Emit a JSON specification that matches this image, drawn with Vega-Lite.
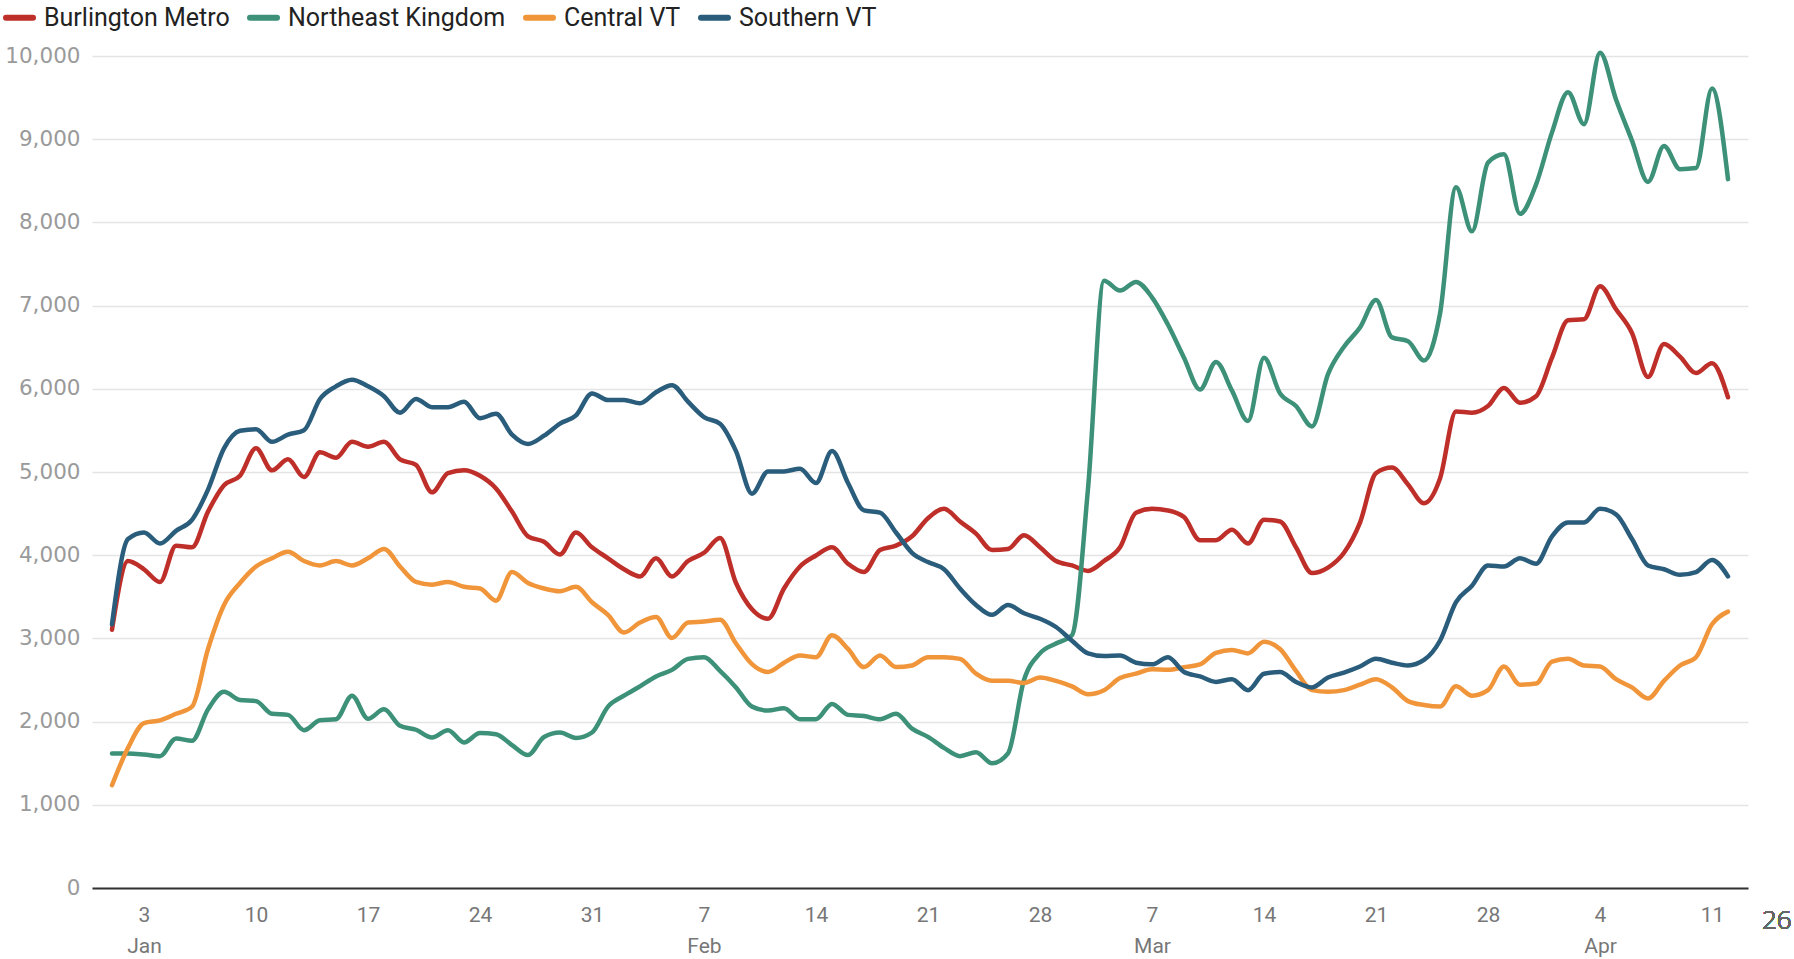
{
  "$schema": "https://vega.github.io/schema/vega-lite/v6.json",
  "width": 1656,
  "height": 832,
  "autosize": {"type": "none"},
  "padding": {"left": 92, "top": 56, "right": 46, "bottom": 71},
  "background": "white",
  "config": {"view": {"stroke": null}, "font": "Roboto"},
  "data": {
    "format": {"parse": {"d": "date:'%Y-%m-%d'"}},
    "values": [
      {"d":"2021-01-01","s":"Burlington Metro","v":3104},{"d":"2021-01-02","s":"Burlington Metro","v":3930},{"d":"2021-01-03","s":"Burlington Metro","v":3831},{"d":"2021-01-04","s":"Burlington Metro","v":3679},{"d":"2021-01-05","s":"Burlington Metro","v":4115},{"d":"2021-01-06","s":"Burlington Metro","v":4095},{"d":"2021-01-07","s":"Burlington Metro","v":4524},{"d":"2021-01-08","s":"Burlington Metro","v":4841},{"d":"2021-01-09","s":"Burlington Metro","v":4954},{"d":"2021-01-10","s":"Burlington Metro","v":5284},
      {"d":"2021-01-11","s":"Burlington Metro","v":5020},{"d":"2021-01-12","s":"Burlington Metro","v":5152},{"d":"2021-01-13","s":"Burlington Metro","v":4941},{"d":"2021-01-14","s":"Burlington Metro","v":5238},{"d":"2021-01-15","s":"Burlington Metro","v":5172},{"d":"2021-01-16","s":"Burlington Metro","v":5363},{"d":"2021-01-17","s":"Burlington Metro","v":5304},{"d":"2021-01-18","s":"Burlington Metro","v":5363},{"d":"2021-01-19","s":"Burlington Metro","v":5152},{"d":"2021-01-20","s":"Burlington Metro","v":5086},
      {"d":"2021-01-21","s":"Burlington Metro","v":4756},{"d":"2021-01-22","s":"Burlington Metro","v":4987},{"d":"2021-01-23","s":"Burlington Metro","v":5020},{"d":"2021-01-24","s":"Burlington Metro","v":4954},{"d":"2021-01-25","s":"Burlington Metro","v":4802},{"d":"2021-01-26","s":"Burlington Metro","v":4524},{"d":"2021-01-27","s":"Burlington Metro","v":4227},{"d":"2021-01-28","s":"Burlington Metro","v":4161},{"d":"2021-01-29","s":"Burlington Metro","v":4009},{"d":"2021-01-30","s":"Burlington Metro","v":4273},
      {"d":"2021-01-31","s":"Burlington Metro","v":4095},{"d":"2021-02-01","s":"Burlington Metro","v":3963},{"d":"2021-02-02","s":"Burlington Metro","v":3831},{"d":"2021-02-03","s":"Burlington Metro","v":3745},{"d":"2021-02-04","s":"Burlington Metro","v":3963},{"d":"2021-02-05","s":"Burlington Metro","v":3745},{"d":"2021-02-06","s":"Burlington Metro","v":3930},{"d":"2021-02-07","s":"Burlington Metro","v":4029},{"d":"2021-02-08","s":"Burlington Metro","v":4207},{"d":"2021-02-09","s":"Burlington Metro","v":3666},
      {"d":"2021-02-10","s":"Burlington Metro","v":3350},{"d":"2021-02-11","s":"Burlington Metro","v":3236},{"d":"2021-02-12","s":"Burlington Metro","v":3600},{"d":"2021-02-13","s":"Burlington Metro","v":3864},{"d":"2021-02-14","s":"Burlington Metro","v":3996},{"d":"2021-02-15","s":"Burlington Metro","v":4095},{"d":"2021-02-16","s":"Burlington Metro","v":3897},{"d":"2021-02-17","s":"Burlington Metro","v":3798},{"d":"2021-02-18","s":"Burlington Metro","v":4062},{"d":"2021-02-19","s":"Burlington Metro","v":4115},
      {"d":"2021-02-20","s":"Burlington Metro","v":4227},{"d":"2021-02-21","s":"Burlington Metro","v":4445},{"d":"2021-02-22","s":"Burlington Metro","v":4557},{"d":"2021-02-23","s":"Burlington Metro","v":4405},{"d":"2021-02-24","s":"Burlington Metro","v":4260},{"d":"2021-02-25","s":"Burlington Metro","v":4062},{"d":"2021-02-26","s":"Burlington Metro","v":4075},{"d":"2021-02-27","s":"Burlington Metro","v":4240},{"d":"2021-02-28","s":"Burlington Metro","v":4095},{"d":"2021-03-01","s":"Burlington Metro","v":3930},
      {"d":"2021-03-02","s":"Burlington Metro","v":3877},{"d":"2021-03-03","s":"Burlington Metro","v":3811},{"d":"2021-03-04","s":"Burlington Metro","v":3930},{"d":"2021-03-05","s":"Burlington Metro","v":4095},{"d":"2021-03-06","s":"Burlington Metro","v":4511},{"d":"2021-03-07","s":"Burlington Metro","v":4557},{"d":"2021-03-08","s":"Burlington Metro","v":4538},{"d":"2021-03-09","s":"Burlington Metro","v":4458},{"d":"2021-03-10","s":"Burlington Metro","v":4181},{"d":"2021-03-11","s":"Burlington Metro","v":4181},
      {"d":"2021-03-12","s":"Burlington Metro","v":4306},{"d":"2021-03-13","s":"Burlington Metro","v":4141},{"d":"2021-03-14","s":"Burlington Metro","v":4425},{"d":"2021-03-15","s":"Burlington Metro","v":4405},{"d":"2021-03-16","s":"Burlington Metro","v":4095},{"d":"2021-03-17","s":"Burlington Metro","v":3785},{"d":"2021-03-18","s":"Burlington Metro","v":3851},{"d":"2021-03-19","s":"Burlington Metro","v":4029},{"d":"2021-03-20","s":"Burlington Metro","v":4392},{"d":"2021-03-21","s":"Burlington Metro","v":4987},
      {"d":"2021-03-22","s":"Burlington Metro","v":5053},{"d":"2021-03-23","s":"Burlington Metro","v":4850},{"d":"2021-03-24","s":"Burlington Metro","v":4624},{"d":"2021-03-25","s":"Burlington Metro","v":4921},{"d":"2021-03-26","s":"Burlington Metro","v":5727},{"d":"2021-03-27","s":"Burlington Metro","v":5713},{"d":"2021-03-28","s":"Burlington Metro","v":5793},{"d":"2021-03-29","s":"Burlington Metro","v":6011},{"d":"2021-03-30","s":"Burlington Metro","v":5832},{"d":"2021-03-31","s":"Burlington Metro","v":5911},
      {"d":"2021-04-01","s":"Burlington Metro","v":6374},{"d":"2021-04-02","s":"Burlington Metro","v":6823},{"d":"2021-04-03","s":"Burlington Metro","v":6836},{"d":"2021-04-04","s":"Burlington Metro","v":7232},{"d":"2021-04-05","s":"Burlington Metro","v":6955},{"d":"2021-04-06","s":"Burlington Metro","v":6671},{"d":"2021-04-07","s":"Burlington Metro","v":6143},{"d":"2021-04-08","s":"Burlington Metro","v":6539},{"d":"2021-04-09","s":"Burlington Metro","v":6387},{"d":"2021-04-10","s":"Burlington Metro","v":6189},
      {"d":"2021-04-11","s":"Burlington Metro","v":6308},{"d":"2021-04-12","s":"Burlington Metro","v":5898},

      {"d":"2021-01-01","s":"Northeast Kingdom","v":1618},{"d":"2021-01-02","s":"Northeast Kingdom","v":1618},{"d":"2021-01-03","s":"Northeast Kingdom","v":1605},{"d":"2021-01-04","s":"Northeast Kingdom","v":1585},{"d":"2021-01-05","s":"Northeast Kingdom","v":1797},{"d":"2021-01-06","s":"Northeast Kingdom","v":1770},{"d":"2021-01-07","s":"Northeast Kingdom","v":2147},{"d":"2021-01-08","s":"Northeast Kingdom","v":2358},{"d":"2021-01-09","s":"Northeast Kingdom","v":2259},{"d":"2021-01-10","s":"Northeast Kingdom","v":2246},
      {"d":"2021-01-11","s":"Northeast Kingdom","v":2094},{"d":"2021-01-12","s":"Northeast Kingdom","v":2081},{"d":"2021-01-13","s":"Northeast Kingdom","v":1896},{"d":"2021-01-14","s":"Northeast Kingdom","v":2015},{"d":"2021-01-15","s":"Northeast Kingdom","v":2028},{"d":"2021-01-16","s":"Northeast Kingdom","v":2312},{"d":"2021-01-17","s":"Northeast Kingdom","v":2034},{"d":"2021-01-18","s":"Northeast Kingdom","v":2147},{"d":"2021-01-19","s":"Northeast Kingdom","v":1949},{"d":"2021-01-20","s":"Northeast Kingdom","v":1902},
      {"d":"2021-01-21","s":"Northeast Kingdom","v":1810},{"d":"2021-01-22","s":"Northeast Kingdom","v":1896},{"d":"2021-01-23","s":"Northeast Kingdom","v":1750},{"d":"2021-01-24","s":"Northeast Kingdom","v":1863},{"d":"2021-01-25","s":"Northeast Kingdom","v":1849},{"d":"2021-01-26","s":"Northeast Kingdom","v":1717},{"d":"2021-01-27","s":"Northeast Kingdom","v":1598},{"d":"2021-01-28","s":"Northeast Kingdom","v":1816},{"d":"2021-01-29","s":"Northeast Kingdom","v":1869},{"d":"2021-01-30","s":"Northeast Kingdom","v":1803},
      {"d":"2021-01-31","s":"Northeast Kingdom","v":1869},{"d":"2021-02-01","s":"Northeast Kingdom","v":2180},{"d":"2021-02-02","s":"Northeast Kingdom","v":2312},{"d":"2021-02-03","s":"Northeast Kingdom","v":2424},{"d":"2021-02-04","s":"Northeast Kingdom","v":2543},{"d":"2021-02-05","s":"Northeast Kingdom","v":2622},{"d":"2021-02-06","s":"Northeast Kingdom","v":2754},{"d":"2021-02-07","s":"Northeast Kingdom","v":2774},{"d":"2021-02-08","s":"Northeast Kingdom","v":2609},{"d":"2021-02-09","s":"Northeast Kingdom","v":2411},
      {"d":"2021-02-10","s":"Northeast Kingdom","v":2180},{"d":"2021-02-11","s":"Northeast Kingdom","v":2133},{"d":"2021-02-12","s":"Northeast Kingdom","v":2160},{"d":"2021-02-13","s":"Northeast Kingdom","v":2028},{"d":"2021-02-14","s":"Northeast Kingdom","v":2028},{"d":"2021-02-15","s":"Northeast Kingdom","v":2213},{"d":"2021-02-16","s":"Northeast Kingdom","v":2081},{"d":"2021-02-17","s":"Northeast Kingdom","v":2067},{"d":"2021-02-18","s":"Northeast Kingdom","v":2028},{"d":"2021-02-19","s":"Northeast Kingdom","v":2094},
      {"d":"2021-02-20","s":"Northeast Kingdom","v":1915},{"d":"2021-02-21","s":"Northeast Kingdom","v":1816},{"d":"2021-02-22","s":"Northeast Kingdom","v":1684},{"d":"2021-02-23","s":"Northeast Kingdom","v":1585},{"d":"2021-02-24","s":"Northeast Kingdom","v":1631},{"d":"2021-02-25","s":"Northeast Kingdom","v":1499},{"d":"2021-02-26","s":"Northeast Kingdom","v":1618},{"d":"2021-02-27","s":"Northeast Kingdom","v":2500},{"d":"2021-02-28","s":"Northeast Kingdom","v":2820},{"d":"2021-03-01","s":"Northeast Kingdom","v":2939},
      {"d":"2021-03-02","s":"Northeast Kingdom","v":3038},{"d":"2021-03-03","s":"Northeast Kingdom","v":4800},{"d":"2021-03-04","s":"Northeast Kingdom","v":7298},{"d":"2021-03-05","s":"Northeast Kingdom","v":7180},{"d":"2021-03-06","s":"Northeast Kingdom","v":7285},{"d":"2021-03-07","s":"Northeast Kingdom","v":7100},{"d":"2021-03-08","s":"Northeast Kingdom","v":6770},{"d":"2021-03-09","s":"Northeast Kingdom","v":6374},{"d":"2021-03-10","s":"Northeast Kingdom","v":5991},{"d":"2021-03-11","s":"Northeast Kingdom","v":6321},
      {"d":"2021-03-12","s":"Northeast Kingdom","v":5978},{"d":"2021-03-13","s":"Northeast Kingdom","v":5614},{"d":"2021-03-14","s":"Northeast Kingdom","v":6374},{"d":"2021-03-15","s":"Northeast Kingdom","v":5945},{"d":"2021-03-16","s":"Northeast Kingdom","v":5793},{"d":"2021-03-17","s":"Northeast Kingdom","v":5548},{"d":"2021-03-18","s":"Northeast Kingdom","v":6176},{"d":"2021-03-19","s":"Northeast Kingdom","v":6506},{"d":"2021-03-20","s":"Northeast Kingdom","v":6737},{"d":"2021-03-21","s":"Northeast Kingdom","v":7067},
      {"d":"2021-03-22","s":"Northeast Kingdom","v":6618},{"d":"2021-03-23","s":"Northeast Kingdom","v":6572},{"d":"2021-03-24","s":"Northeast Kingdom","v":6341},{"d":"2021-03-25","s":"Northeast Kingdom","v":6902},{"d":"2021-03-26","s":"Northeast Kingdom","v":8421},{"d":"2021-03-27","s":"Northeast Kingdom","v":7893},{"d":"2021-03-28","s":"Northeast Kingdom","v":8719},{"d":"2021-03-29","s":"Northeast Kingdom","v":8818},{"d":"2021-03-30","s":"Northeast Kingdom","v":8104},{"d":"2021-03-31","s":"Northeast Kingdom","v":8454},
      {"d":"2021-04-01","s":"Northeast Kingdom","v":9082},{"d":"2021-04-02","s":"Northeast Kingdom","v":9564},{"d":"2021-04-03","s":"Northeast Kingdom","v":9181},{"d":"2021-04-04","s":"Northeast Kingdom","v":10040},{"d":"2021-04-05","s":"Northeast Kingdom","v":9478},{"d":"2021-04-06","s":"Northeast Kingdom","v":8983},{"d":"2021-04-07","s":"Northeast Kingdom","v":8487},{"d":"2021-04-08","s":"Northeast Kingdom","v":8917},{"d":"2021-04-09","s":"Northeast Kingdom","v":8640},{"d":"2021-04-10","s":"Northeast Kingdom","v":8653},
      {"d":"2021-04-11","s":"Northeast Kingdom","v":9610},{"d":"2021-04-12","s":"Northeast Kingdom","v":8520},

      {"d":"2021-01-01","s":"Central VT","v":1235},{"d":"2021-01-02","s":"Central VT","v":1684},{"d":"2021-01-03","s":"Central VT","v":1982},{"d":"2021-01-04","s":"Central VT","v":2015},{"d":"2021-01-05","s":"Central VT","v":2094},{"d":"2021-01-06","s":"Central VT","v":2180},{"d":"2021-01-07","s":"Central VT","v":2873},{"d":"2021-01-08","s":"Central VT","v":3402},{"d":"2021-01-09","s":"Central VT","v":3666},{"d":"2021-01-10","s":"Central VT","v":3864},
      {"d":"2021-01-11","s":"Central VT","v":3963},{"d":"2021-01-12","s":"Central VT","v":4042},{"d":"2021-01-13","s":"Central VT","v":3930},{"d":"2021-01-14","s":"Central VT","v":3877},{"d":"2021-01-15","s":"Central VT","v":3930},{"d":"2021-01-16","s":"Central VT","v":3877},{"d":"2021-01-17","s":"Central VT","v":3963},{"d":"2021-01-18","s":"Central VT","v":4075},{"d":"2021-01-19","s":"Central VT","v":3864},{"d":"2021-01-20","s":"Central VT","v":3679},
      {"d":"2021-01-21","s":"Central VT","v":3646},{"d":"2021-01-22","s":"Central VT","v":3679},{"d":"2021-01-23","s":"Central VT","v":3620},{"d":"2021-01-24","s":"Central VT","v":3600},{"d":"2021-01-25","s":"Central VT","v":3454},{"d":"2021-01-26","s":"Central VT","v":3798},{"d":"2021-01-27","s":"Central VT","v":3666},{"d":"2021-01-28","s":"Central VT","v":3600},{"d":"2021-01-29","s":"Central VT","v":3567},{"d":"2021-01-30","s":"Central VT","v":3620},
      {"d":"2021-01-31","s":"Central VT","v":3435},{"d":"2021-02-01","s":"Central VT","v":3283},{"d":"2021-02-02","s":"Central VT","v":3071},{"d":"2021-02-03","s":"Central VT","v":3190},{"d":"2021-02-04","s":"Central VT","v":3256},{"d":"2021-02-05","s":"Central VT","v":3005},{"d":"2021-02-06","s":"Central VT","v":3190},{"d":"2021-02-07","s":"Central VT","v":3203},{"d":"2021-02-08","s":"Central VT","v":3223},{"d":"2021-02-09","s":"Central VT","v":2939},
      {"d":"2021-02-10","s":"Central VT","v":2690},{"d":"2021-02-11","s":"Central VT","v":2596},{"d":"2021-02-12","s":"Central VT","v":2708},{"d":"2021-02-13","s":"Central VT","v":2794},{"d":"2021-02-14","s":"Central VT","v":2774},{"d":"2021-02-15","s":"Central VT","v":3038},{"d":"2021-02-16","s":"Central VT","v":2873},{"d":"2021-02-17","s":"Central VT","v":2655},{"d":"2021-02-18","s":"Central VT","v":2794},{"d":"2021-02-19","s":"Central VT","v":2655},
      {"d":"2021-02-20","s":"Central VT","v":2675},{"d":"2021-02-21","s":"Central VT","v":2774},{"d":"2021-02-22","s":"Central VT","v":2774},{"d":"2021-02-23","s":"Central VT","v":2754},{"d":"2021-02-24","s":"Central VT","v":2576},{"d":"2021-02-25","s":"Central VT","v":2490},{"d":"2021-02-26","s":"Central VT","v":2490},{"d":"2021-02-27","s":"Central VT","v":2464},{"d":"2021-02-28","s":"Central VT","v":2530},{"d":"2021-03-01","s":"Central VT","v":2490},
      {"d":"2021-03-02","s":"Central VT","v":2424},{"d":"2021-03-03","s":"Central VT","v":2330},{"d":"2021-03-04","s":"Central VT","v":2378},{"d":"2021-03-05","s":"Central VT","v":2523},{"d":"2021-03-06","s":"Central VT","v":2576},{"d":"2021-03-07","s":"Central VT","v":2629},{"d":"2021-03-08","s":"Central VT","v":2622},{"d":"2021-03-09","s":"Central VT","v":2655},{"d":"2021-03-10","s":"Central VT","v":2688},{"d":"2021-03-11","s":"Central VT","v":2827},
      {"d":"2021-03-12","s":"Central VT","v":2860},{"d":"2021-03-13","s":"Central VT","v":2820},{"d":"2021-03-14","s":"Central VT","v":2959},{"d":"2021-03-15","s":"Central VT","v":2873},{"d":"2021-03-16","s":"Central VT","v":2609},{"d":"2021-03-17","s":"Central VT","v":2378},{"d":"2021-03-18","s":"Central VT","v":2358},{"d":"2021-03-19","s":"Central VT","v":2378},{"d":"2021-03-20","s":"Central VT","v":2444},{"d":"2021-03-21","s":"Central VT","v":2510},
      {"d":"2021-03-22","s":"Central VT","v":2411},{"d":"2021-03-23","s":"Central VT","v":2246},{"d":"2021-03-24","s":"Central VT","v":2199},{"d":"2021-03-25","s":"Central VT","v":2180},{"d":"2021-03-26","s":"Central VT","v":2424},{"d":"2021-03-27","s":"Central VT","v":2312},{"d":"2021-03-28","s":"Central VT","v":2378},{"d":"2021-03-29","s":"Central VT","v":2662},{"d":"2021-03-30","s":"Central VT","v":2444},{"d":"2021-03-31","s":"Central VT","v":2457},
      {"d":"2021-04-01","s":"Central VT","v":2721},{"d":"2021-04-02","s":"Central VT","v":2754},{"d":"2021-04-03","s":"Central VT","v":2675},{"d":"2021-04-04","s":"Central VT","v":2662},{"d":"2021-04-05","s":"Central VT","v":2510},{"d":"2021-04-06","s":"Central VT","v":2411},{"d":"2021-04-07","s":"Central VT","v":2279},{"d":"2021-04-08","s":"Central VT","v":2490},{"d":"2021-04-09","s":"Central VT","v":2675},{"d":"2021-04-10","s":"Central VT","v":2774},
      {"d":"2021-04-11","s":"Central VT","v":3170},{"d":"2021-04-12","s":"Central VT","v":3322},

      {"d":"2021-01-01","s":"Southern VT","v":3170},{"d":"2021-01-02","s":"Southern VT","v":4194},{"d":"2021-01-03","s":"Southern VT","v":4273},{"d":"2021-01-04","s":"Southern VT","v":4141},{"d":"2021-01-05","s":"Southern VT","v":4293},{"d":"2021-01-06","s":"Southern VT","v":4425},{"d":"2021-01-07","s":"Southern VT","v":4789},{"d":"2021-01-08","s":"Southern VT","v":5284},{"d":"2021-01-09","s":"Southern VT","v":5495},{"d":"2021-01-10","s":"Southern VT","v":5515},
      {"d":"2021-01-11","s":"Southern VT","v":5363},{"d":"2021-01-12","s":"Southern VT","v":5449},{"d":"2021-01-13","s":"Southern VT","v":5502},{"d":"2021-01-14","s":"Southern VT","v":5878},{"d":"2021-01-15","s":"Southern VT","v":6030},{"d":"2021-01-16","s":"Southern VT","v":6110},{"d":"2021-01-17","s":"Southern VT","v":6030},{"d":"2021-01-18","s":"Southern VT","v":5911},{"d":"2021-01-19","s":"Southern VT","v":5713},{"d":"2021-01-20","s":"Southern VT","v":5878},
      {"d":"2021-01-21","s":"Southern VT","v":5779},{"d":"2021-01-22","s":"Southern VT","v":5779},{"d":"2021-01-23","s":"Southern VT","v":5845},{"d":"2021-01-24","s":"Southern VT","v":5647},{"d":"2021-01-25","s":"Southern VT","v":5700},{"d":"2021-01-26","s":"Southern VT","v":5449},{"d":"2021-01-27","s":"Southern VT","v":5337},{"d":"2021-01-28","s":"Southern VT","v":5436},{"d":"2021-01-29","s":"Southern VT","v":5581},{"d":"2021-01-30","s":"Southern VT","v":5680},
      {"d":"2021-01-31","s":"Southern VT","v":5944},{"d":"2021-02-01","s":"Southern VT","v":5865},{"d":"2021-02-02","s":"Southern VT","v":5865},{"d":"2021-02-03","s":"Southern VT","v":5826},{"d":"2021-02-04","s":"Southern VT","v":5958},{"d":"2021-02-05","s":"Southern VT","v":6044},{"d":"2021-02-06","s":"Southern VT","v":5845},{"d":"2021-02-07","s":"Southern VT","v":5660},{"d":"2021-02-08","s":"Southern VT","v":5581},{"d":"2021-02-09","s":"Southern VT","v":5251},
      {"d":"2021-02-10","s":"Southern VT","v":4740},{"d":"2021-02-11","s":"Southern VT","v":5007},{"d":"2021-02-12","s":"Southern VT","v":5007},{"d":"2021-02-13","s":"Southern VT","v":5040},{"d":"2021-02-14","s":"Southern VT","v":4868},{"d":"2021-02-15","s":"Southern VT","v":5251},{"d":"2021-02-16","s":"Southern VT","v":4868},{"d":"2021-02-17","s":"Southern VT","v":4538},{"d":"2021-02-18","s":"Southern VT","v":4511},{"d":"2021-02-19","s":"Southern VT","v":4273},
      {"d":"2021-02-20","s":"Southern VT","v":4029},{"d":"2021-02-21","s":"Southern VT","v":3917},{"d":"2021-02-22","s":"Southern VT","v":3831},{"d":"2021-02-23","s":"Southern VT","v":3600},{"d":"2021-02-24","s":"Southern VT","v":3402},{"d":"2021-02-25","s":"Southern VT","v":3283},{"d":"2021-02-26","s":"Southern VT","v":3402},{"d":"2021-02-27","s":"Southern VT","v":3302},{"d":"2021-02-28","s":"Southern VT","v":3236},{"d":"2021-03-01","s":"Southern VT","v":3137},
      {"d":"2021-03-02","s":"Southern VT","v":2972},{"d":"2021-03-03","s":"Southern VT","v":2820},{"d":"2021-03-04","s":"Southern VT","v":2787},{"d":"2021-03-05","s":"Southern VT","v":2794},{"d":"2021-03-06","s":"Southern VT","v":2708},{"d":"2021-03-07","s":"Southern VT","v":2688},{"d":"2021-03-08","s":"Southern VT","v":2774},{"d":"2021-03-09","s":"Southern VT","v":2596},{"d":"2021-03-10","s":"Southern VT","v":2543},{"d":"2021-03-11","s":"Southern VT","v":2477},
      {"d":"2021-03-12","s":"Southern VT","v":2510},{"d":"2021-03-13","s":"Southern VT","v":2378},{"d":"2021-03-14","s":"Southern VT","v":2576},{"d":"2021-03-15","s":"Southern VT","v":2596},{"d":"2021-03-16","s":"Southern VT","v":2477},{"d":"2021-03-17","s":"Southern VT","v":2411},{"d":"2021-03-18","s":"Southern VT","v":2530},{"d":"2021-03-19","s":"Southern VT","v":2589},{"d":"2021-03-20","s":"Southern VT","v":2662},{"d":"2021-03-21","s":"Southern VT","v":2754},
      {"d":"2021-03-22","s":"Southern VT","v":2708},{"d":"2021-03-23","s":"Southern VT","v":2675},{"d":"2021-03-24","s":"Southern VT","v":2741},{"d":"2021-03-25","s":"Southern VT","v":2972},{"d":"2021-03-26","s":"Southern VT","v":3435},{"d":"2021-03-27","s":"Southern VT","v":3633},{"d":"2021-03-28","s":"Southern VT","v":3877},{"d":"2021-03-29","s":"Southern VT","v":3864},{"d":"2021-03-30","s":"Southern VT","v":3963},{"d":"2021-03-31","s":"Southern VT","v":3897},
      {"d":"2021-04-01","s":"Southern VT","v":4227},{"d":"2021-04-02","s":"Southern VT","v":4392},{"d":"2021-04-03","s":"Southern VT","v":4392},{"d":"2021-04-04","s":"Southern VT","v":4557},{"d":"2021-04-05","s":"Southern VT","v":4491},{"d":"2021-04-06","s":"Southern VT","v":4194},{"d":"2021-04-07","s":"Southern VT","v":3877},{"d":"2021-04-08","s":"Southern VT","v":3831},{"d":"2021-04-09","s":"Southern VT","v":3765},{"d":"2021-04-10","s":"Southern VT","v":3798},
      {"d":"2021-04-11","s":"Southern VT","v":3943},{"d":"2021-04-12","s":"Southern VT","v":3745}
    ]
  },
  "layer": [
    {
      "mark": {"type": "line", "interpolate": "monotone", "strokeWidth": 4.5, "strokeCap": "round", "strokeJoin": "round"},
      "encoding": {
        "x": {
          "field": "d", "type": "temporal",
          "scale": {"domain": [{"year": 2020, "month": 12, "date": 30, "hours": 18}, {"year": 2021, "month": 4, "date": 13, "hours": 6}]},
          "axis": {
            "title": null,
            "values": [
              {"year": 2021, "month": 1, "date": 3}, {"year": 2021, "month": 1, "date": 10}, {"year": 2021, "month": 1, "date": 17},
              {"year": 2021, "month": 1, "date": 24}, {"year": 2021, "month": 1, "date": 31}, {"year": 2021, "month": 2, "date": 7},
              {"year": 2021, "month": 2, "date": 14}, {"year": 2021, "month": 2, "date": 21}, {"year": 2021, "month": 2, "date": 28},
              {"year": 2021, "month": 3, "date": 7}, {"year": 2021, "month": 3, "date": 14}, {"year": 2021, "month": 3, "date": 21},
              {"year": 2021, "month": 3, "date": 28}, {"year": 2021, "month": 4, "date": 4}, {"year": 2021, "month": 4, "date": 11}
            ],
            "labelExpr": "date(datum.value) <= 7 ? [timeFormat(datum.value, '%-d'), timeFormat(datum.value, '%b')] : timeFormat(datum.value, '%-d')",
            "grid": false, "ticks": false,
            "domainColor": "#333333", "domainWidth": 2,
            "labelFont": "Roboto", "labelFontSize": 21, "labelColor": "#777777",
            "labelPadding": 16, "labelLineHeight": 31, "labelFlush": false, "labelOverlap": false
          }
        },
        "y": {
          "field": "v", "type": "quantitative",
          "scale": {"domain": [0, 10000], "nice": false},
          "axis": {
            "title": null,
            "values": [0, 1000, 2000, 3000, 4000, 5000, 6000, 7000, 8000, 9000, 10000],
            "format": ",.0f", "domain": false, "ticks": false,
            "gridColor": "#e4e4e4", "gridWidth": 1.5,
            "labelFont": "DejaVu Sans", "labelFontSize": 21.5, "labelColor": "#9a9a9a", "labelPadding": 12
          }
        },
        "color": {
          "field": "s", "type": "nominal",
          "scale": {
            "domain": ["Burlington Metro", "Northeast Kingdom", "Central VT", "Southern VT"],
            "range": ["#bf2f2a", "#3d9178", "#f0953a", "#2a5d7c"]
          },
          "legend": {
            "title": null, "orient": "none", "legendX": -89, "legendY": -55,
            "direction": "horizontal", "symbolType": "stroke", "symbolSize": 729,
            "symbolStrokeWidth": 6, "labelFont": "Roboto", "labelFontSize": 25,
            "labelColor": "#222222", "labelLimit": 500, "columnPadding": 8, "labelOffset": 8, "padding": 0,
            "encode": {"symbols": {"update": {"strokeCap": {"value": "round"}}}}
          }
        }
      }
    },
    {
      "mark": {"type": "text", "align": "left", "baseline": "middle", "font": "Open Sans", "fontSize": 26, "fontWeight": 300, "color": "#666666"},
      "encoding": {
        "x": {"datum": {"year": 2021, "month": 4, "date": 14, "hours": 3}, "type": "temporal"},
        "y": {"datum": -397, "type": "quantitative"},
        "text": {"value": "26"}
      }
    }
  ]
}
